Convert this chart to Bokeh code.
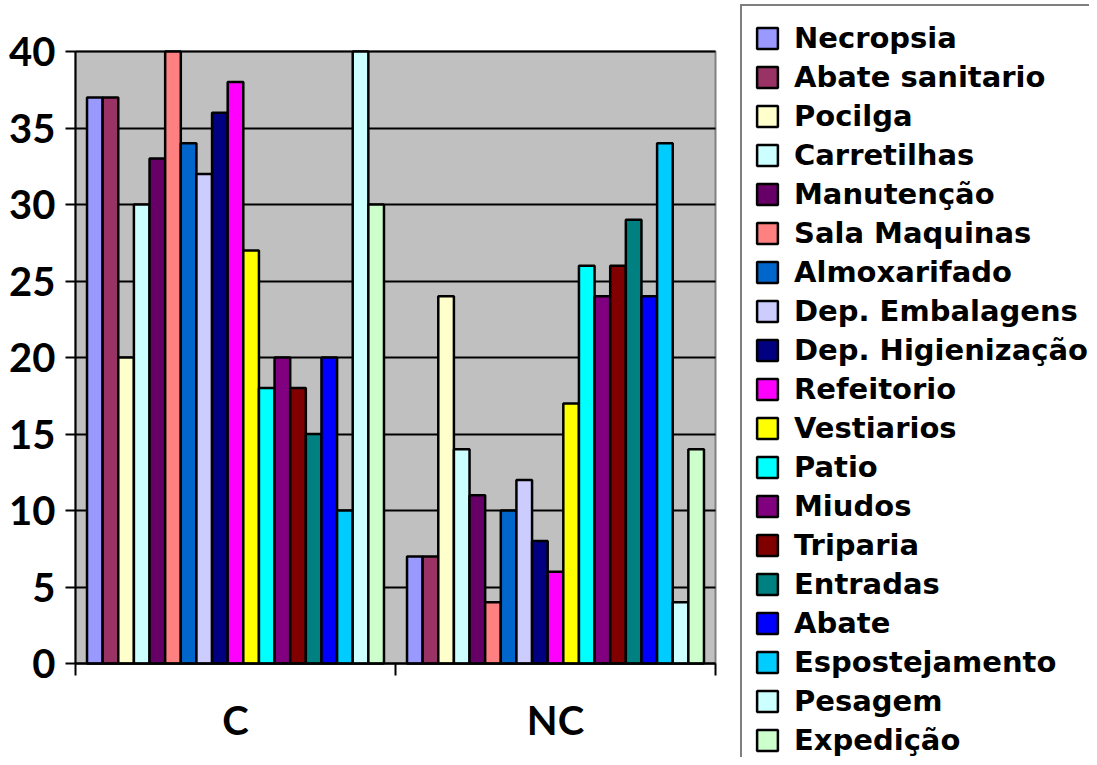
from bokeh.plotting import figure
from bokeh.models import (ColumnDataSource, Range1d, FixedTicker, Legend, LegendItem,
                          BoxAnnotation, Grid)
from bokeh.embed import file_html
from bokeh.resources import INLINE

categories = ["C", "NC"]
series = ["Necropsia", "Abate sanitario", "Pocilga", "Carretilhas", "Manutenção",
          "Sala Maquinas", "Almoxarifado", "Dep. Embalagens", "Dep. Higienização",
          "Refeitorio", "Vestiarios", "Patio", "Miudos", "Triparia", "Entradas",
          "Abate", "Espostejamento", "Pesagem", "Expedição"]
values_C = [37, 37, 20, 30, 33, 40, 34, 32, 36, 38, 27, 18, 20, 18, 15, 20, 10, 40, 30]
values_NC = [7, 7, 24, 14, 11, 4, 10, 12, 8, 6, 17, 26, 24, 26, 29, 24, 34, 4, 14]
colors = ["#9999FF", "#993366", "#FFFFCC", "#CCFFFF", "#660066", "#FF8080",
          "#0066CC", "#CCCCFF", "#000080", "#FF00FF", "#FFFF00", "#00FFFF",
          "#800080", "#800000", "#008080", "#0000FF", "#00CCFF", "#CCFFFF", "#CCFFCC"]
y_ticks = [0, 5, 10, 15, 20, 25, 30, 35, 40]

AXIS_FONT = "Lato"
LEGEND_FONT = "DejaVu Sans"

# layout constants (pixels)
W, H = 1089, 757
PL, PR, PT, PB = 75, 715, 51, 663
ncat = len(categories)
ymax = y_ticks[-1]
ppx = (PR - PL) / ncat
ppy = (PB - PT) / ymax

p = figure(width=W, height=H, output_backend="svg", toolbar_location=None,
           x_range=Range1d(-PL / ppx, (W - PL) / ppx),
           y_range=Range1d(-(H - PB) / ppy, ymax + PT / ppy),
           min_border=0)
p.outline_line_color = None
p.background_fill_color = "white"

bg = BoxAnnotation(left=0, right=ncat, bottom=0, top=ymax,
                   fill_color="#C0C0C0", fill_alpha=1.0,
                   line_color="#808080", line_alpha=1.0, line_width=2, level="image")
p.add_layout(bg)

# grid lines limited to the plot area
p.xgrid.visible = False
if "cross_bounds" in Grid.properties():
    p.ygrid.ticker = FixedTicker(ticks=y_ticks)
    p.ygrid.cross_bounds = (0, ncat)
    p.ygrid.grid_line_color = "black"
    p.ygrid.grid_line_width = 2
else:
    p.ygrid.visible = False
    p.segment(x0=[0] * len(y_ticks), x1=[ncat] * len(y_ticks), y0=y_ticks, y1=y_ticks,
              line_color="black", line_width=2, level="underlay")

n = len(series)
group_span = 0.928
w = group_span / n
items = []
for i, name in enumerate(series):
    off = -group_span / 2 + w * (i + 0.5)
    xs = [k + 0.5 + off for k in range(ncat)]
    src = ColumnDataSource(dict(x=xs, top=[values_C[i], values_NC[i]]))
    r = p.vbar(x="x", top="top", width=w, bottom=0, source=src,
               fill_color=colors[i], line_color="black", line_width=2.5)
    items.append(LegendItem(label=name, renderers=[r]))

# y axis
p.yaxis.fixed_location = 0
p.yaxis.bounds = (0, ymax)
p.yaxis.ticker = FixedTicker(ticks=y_ticks)
p.yaxis.axis_line_color = "black"
p.yaxis.axis_line_width = 2
p.yaxis.major_tick_line_width = 2
p.yaxis.major_tick_line_color = "black"
p.yaxis.major_tick_out = 10
p.yaxis.major_tick_in = 0
p.yaxis.minor_tick_line_color = None
p.yaxis.major_label_text_font = AXIS_FONT
p.yaxis.major_label_text_font_style = "bold"
p.yaxis.major_label_text_font_size = "40px"
p.yaxis.major_label_text_color = "black"
p.yaxis.major_label_standoff = 10

# x axis
centers = [k + 0.5 for k in range(ncat)]
p.xaxis.fixed_location = 0
p.xaxis.bounds = (0, ncat)
p.xaxis.ticker = FixedTicker(ticks=centers, minor_ticks=list(range(ncat + 1)))
p.xaxis.major_label_overrides = {c: lab for c, lab in zip(centers, categories)}
p.xaxis.axis_line_color = "black"
p.xaxis.axis_line_width = 2
p.xaxis.major_tick_line_color = None
p.xaxis.major_tick_out = 0
p.xaxis.major_tick_in = 0
p.xaxis.minor_tick_line_color = "black"
p.xaxis.minor_tick_line_width = 2
p.xaxis.minor_tick_out = 12
p.xaxis.minor_tick_in = 0
p.xaxis.major_label_text_font = AXIS_FONT
p.xaxis.major_label_text_font_style = "bold"
p.xaxis.major_label_text_font_size = "40px"
p.xaxis.major_label_text_color = "black"
p.xaxis.major_label_standoff = 20

# legend
PAD = 12
ROW = 39
leg_h = 2 * PAD + ROW * n
legend = Legend(items=items, location=(740, H - 8 - leg_h))
legend.label_text_font = LEGEND_FONT
legend.label_text_font_style = "bold"
legend.label_text_font_size = "29px"
legend.label_text_color = "black"
legend.label_height = ROW
legend.label_width = 420
legend.glyph_height = 26
legend.glyph_width = 26
legend.label_standoff = 14
legend.spacing = 0
legend.padding = PAD
legend.margin = 0
legend.border_line_color = "black"
legend.border_line_width = 2
legend.background_fill_color = "white"
legend.background_fill_alpha = 1
p.add_layout(legend, "center")

open("out.html", "w").write(file_html(p, INLINE))
